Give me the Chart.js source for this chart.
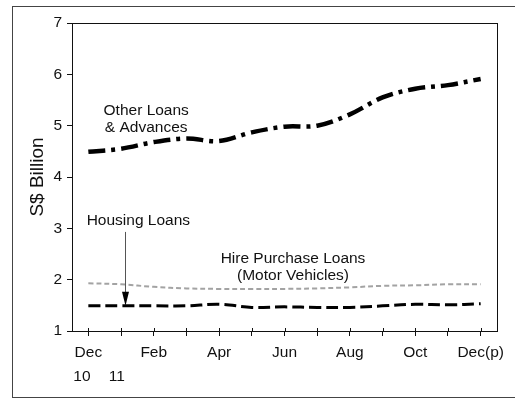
<!DOCTYPE html>
<html>
<head>
<meta charset="utf-8">
<script src="https://cdn.jsdelivr.net/npm/chart.js@4.4.0/dist/chart.umd.min.js"></script>
<style>
  html, body { margin: 0; padding: 0; background: #fff; overflow: hidden; }
  #frame { position: absolute; left: 12px; top: 6px; width: 520px; height: 390px; border: 1px solid #444; }
  #wrap { position: absolute; left: 0; top: 0; width: 515px; height: 398px; }
</style>
</head>
<body>
<div id="frame"></div>
<div id="wrap"><canvas id="loanChart" width="515" height="398"></canvas></div>
<script>
// monthly, Dec 2010 to Dec 2011 (last month preliminary)
var months = [["Dec", "10   "], ["", "11  "], "Feb", "", "Apr", "", "Jun", "", "Aug", "", "Oct", "", "Dec(p)"];
var otherLoans = [4.49, 4.55, 4.68, 4.75, 4.70, 4.87, 4.98, 5.00, 5.22, 5.55, 5.72, 5.79, 5.91];
var hirePurchase = [1.93, 1.91, 1.86, 1.83, 1.82, 1.82, 1.82, 1.83, 1.85, 1.88, 1.89, 1.91, 1.91];
var housingLoans = [1.49, 1.49, 1.49, 1.49, 1.52, 1.46, 1.47, 1.46, 1.46, 1.49, 1.52, 1.51, 1.53];
var yTicks = [1, 2, 3, 4, 5, 6, 7];

// text labels placed at (month index, S$ billion)
var notes = [
  { lines: ["Other Loans", "& Advances"], at: [1.77, 5.13] },
  { lines: ["Housing Loans"], at: [1.53, 3.14] },
  { lines: ["Hire Purchase Loans", "(Motor Vehicles)"], at: [6.26, 2.24] }
];
var arrow = { x: 1.13, from: 2.93, to: 1.49 };

var FONT = "'Liberation Sans', Arial, sans-serif";

var framePlugin = {
  id: "frame",
  afterDraw: function (chart) {
    var ctx = chart.ctx, a = chart.chartArea, xs = chart.scales.x;
    ctx.save();
    ctx.strokeStyle = "#111";
    ctx.lineWidth = 1;
    ctx.strokeRect(a.left + 0.5, a.top + 0.5, a.right - a.left, a.bottom - a.top);
    // short inward stubs on the month ticks
    ctx.beginPath();
    for (var i = 0; i < months.length; i++) {
      var px = Math.round(xs.getPixelForTick(i)) + 0.5;
      ctx.moveTo(px, a.bottom - 3);
      ctx.lineTo(px, a.bottom);
    }
    ctx.stroke();
    ctx.restore();
  }
};

var notesPlugin = {
  id: "notes",
  afterDatasetsDraw: function (chart) {
    var ctx = chart.ctx, xs = chart.scales.x, ys = chart.scales.y;
    ctx.save();
    ctx.fillStyle = "#111";
    ctx.font = "15.5px " + FONT;
    ctx.textAlign = "center";
    ctx.textBaseline = "middle";
    notes.forEach(function (n) {
      var cx = xs.getPixelForValue(n.at[0]);
      var cy = ys.getPixelForValue(n.at[1]);
      var lh = 17.5;
      var y0 = cy - (n.lines.length - 1) * lh / 2;
      n.lines.forEach(function (t, k) { ctx.fillText(t, cx, y0 + k * lh); });
    });
    // pointer from the housing label down to its line
    var ax = Math.round(xs.getPixelForValue(arrow.x)) + 0.5;
    var y1 = ys.getPixelForValue(arrow.from);
    var y2 = ys.getPixelForValue(arrow.to);
    ctx.strokeStyle = "#555";
    ctx.lineWidth = 1;
    ctx.beginPath();
    ctx.moveTo(ax, y1);
    ctx.lineTo(ax, y2 - 12);
    ctx.stroke();
    ctx.fillStyle = "#000";
    ctx.beginPath();
    ctx.moveTo(ax - 3.5, y2 - 14);
    ctx.lineTo(ax + 3.5, y2 - 14);
    ctx.lineTo(ax, y2);
    ctx.closePath();
    ctx.fill();
    ctx.restore();
  }
};

new Chart("loanChart", {
  type: "line",
  data: {
    labels: months,
    datasets: [
      {
        label: "Other Loans & Advances",
        data: otherLoans,
        borderColor: "#000",
        borderWidth: 4.5,
        borderDash: [17, 6, 4, 6],
        tension: 0.35
      },
      {
        label: "Hire Purchase Loans (Motor Vehicles)",
        data: hirePurchase,
        borderColor: "#a3a3a3",
        borderWidth: 2,
        borderDash: [5, 3],
        tension: 0.35
      },
      {
        label: "Housing Loans",
        data: housingLoans,
        borderColor: "#000",
        borderWidth: 3,
        borderDash: [12, 5],
        tension: 0.35
      }
    ]
  },
  options: {
    responsive: false,
    animation: false,
    devicePixelRatio: 1,
    layout: { padding: { top: 23, right: 18, bottom: 0, left: 0 } },
    elements: { point: { radius: 0 } },
    plugins: {
      legend: { display: false },
      tooltip: { enabled: false }
    },
    scales: {
      x: {
        offset: true,
        grid: { display: true, drawOnChartArea: false, offset: false, tickLength: 5, color: "#111" },
        border: { display: true, color: "#111" },
        ticks: {
          autoSkip: false,
          maxRotation: 0,
          padding: 5,
          color: "#111",
          font: { family: FONT, size: 15.5, lineHeight: 1.55 }
        },
        afterFit: function (s) { s.height = 67; }
      },
      y: {
        min: 1,
        max: 7,
        afterBuildTicks: function (s) { s.ticks = yTicks.map(function (v) { return { value: v }; }); },
        grid: { display: true, drawOnChartArea: false, tickLength: 5, color: "#111" },
        border: { display: true, color: "#111" },
        ticks: {
          padding: 5,
          color: "#111",
          font: { family: FONT, size: 15.5 }
        },
        title: {
          display: true,
          text: "S$ Billion",
          color: "#111",
          padding: { top: 26, bottom: 0 },
          font: { family: FONT, size: 19 }
        },
        afterFit: function (s) { s.width = 72; }
      }
    }
  },
  plugins: [framePlugin, notesPlugin]
});
</script>
</body>
</html>
